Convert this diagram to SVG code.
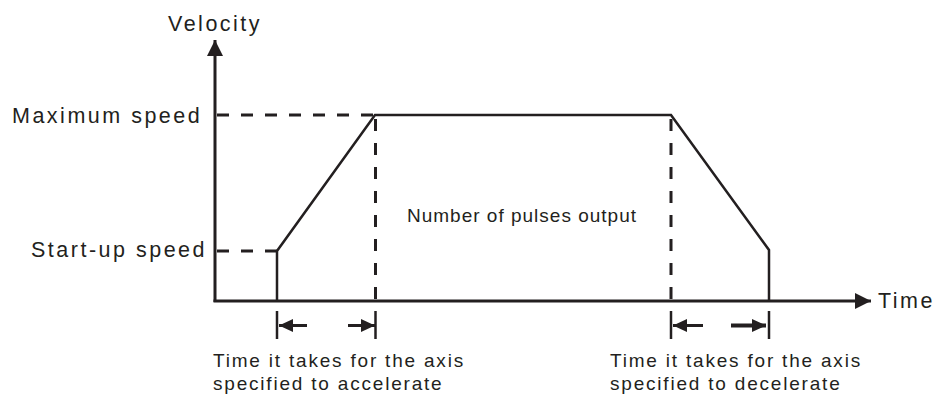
<svg xmlns="http://www.w3.org/2000/svg" width="938" height="397" viewBox="0 0 938 397">
<style>
.ax{stroke:#231f20;stroke-width:3;fill:none}
.dash{stroke:#231f20;stroke-width:3;fill:none;stroke-dasharray:12 12}
.prof{stroke:#231f20;stroke-width:2.5;fill:none;stroke-linejoin:miter}
.tick{stroke:#231f20;stroke-width:2.5;fill:none}
.arr{stroke:#231f20;stroke-width:3;fill:none}
.lbl{font-family:"Liberation Sans",Arial,sans-serif;font-size:21.5px;letter-spacing:2.5px;fill:#231f20}
.sm{font-family:"Liberation Sans",Arial,sans-serif;font-size:19px;letter-spacing:1.8px;fill:#231f20}
</style>
<defs>
<marker id="big" markerUnits="userSpaceOnUse" markerWidth="18" markerHeight="16" refX="16" refY="8" orient="auto">
<path d="M0,0 L16,8 L0,16 Z" fill="#231f20"/>
</marker>
<marker id="small" markerUnits="userSpaceOnUse" markerWidth="16" markerHeight="14" refX="14" refY="7" orient="auto">
<path d="M0,0.5 L14,7 L0,13.5 Z" fill="#231f20"/>
</marker>
</defs>
<g id="connectors">
<line class="ax" x1="215" y1="302" x2="215" y2="40" marker-end="url(#big)"/>
<line class="ax" x1="213.5" y1="301" x2="871" y2="301" marker-end="url(#big)"/>
<line class="dash" x1="217" y1="115" x2="375" y2="115"/>
<line class="dash" x1="217" y1="251" x2="277" y2="251"/>
<line class="dash" x1="375.5" y1="119" x2="375.5" y2="300"/>
<line class="dash" x1="671" y1="119" x2="671" y2="300"/>
<path class="prof" d="M277,301 L277,251 L375,115 L671,115 L769,250 L769,301"/>
<line class="tick" x1="277" y1="311" x2="277" y2="339"/>
<line class="tick" x1="375.5" y1="311" x2="375.5" y2="339"/>
<line class="tick" x1="671" y1="311" x2="671" y2="339"/>
<line class="tick" x1="769" y1="311" x2="769" y2="339"/>
<line class="arr" x1="307" y1="325.5" x2="279" y2="325.5" marker-end="url(#small)"/>
<line class="arr" x1="348" y1="325.5" x2="375" y2="325.5" marker-end="url(#small)"/>
<line class="arr" x1="703" y1="325.5" x2="673" y2="325.5" marker-end="url(#small)"/>
<line class="arr" x1="731" y1="325.5" x2="766" y2="325.5" marker-end="url(#small)" style="stroke-width:4"/>
</g>
<g id="velocity-label"><text class="lbl" x="168" y="31">Velocity</text></g>
<g id="max-speed-label"><text class="lbl" x="12" y="123">Maximum speed</text></g>
<g id="startup-speed-label"><text class="lbl" x="31" y="257">Start-up speed</text></g>
<g id="time-label"><text class="lbl" x="878" y="308">Time</text></g>
<g id="pulses-label"><text class="sm" x="407" y="222" style="letter-spacing:1px">Number of pulses output</text></g>
<g id="accel-label"><text class="sm" x="213" y="367">Time it takes for the axis</text><text class="sm" x="213" y="390">specified to accelerate</text></g>
<g id="decel-label"><text class="sm" x="610" y="367">Time it takes for the axis</text><text class="sm" x="610" y="390">specified to decelerate</text></g>
</svg>
